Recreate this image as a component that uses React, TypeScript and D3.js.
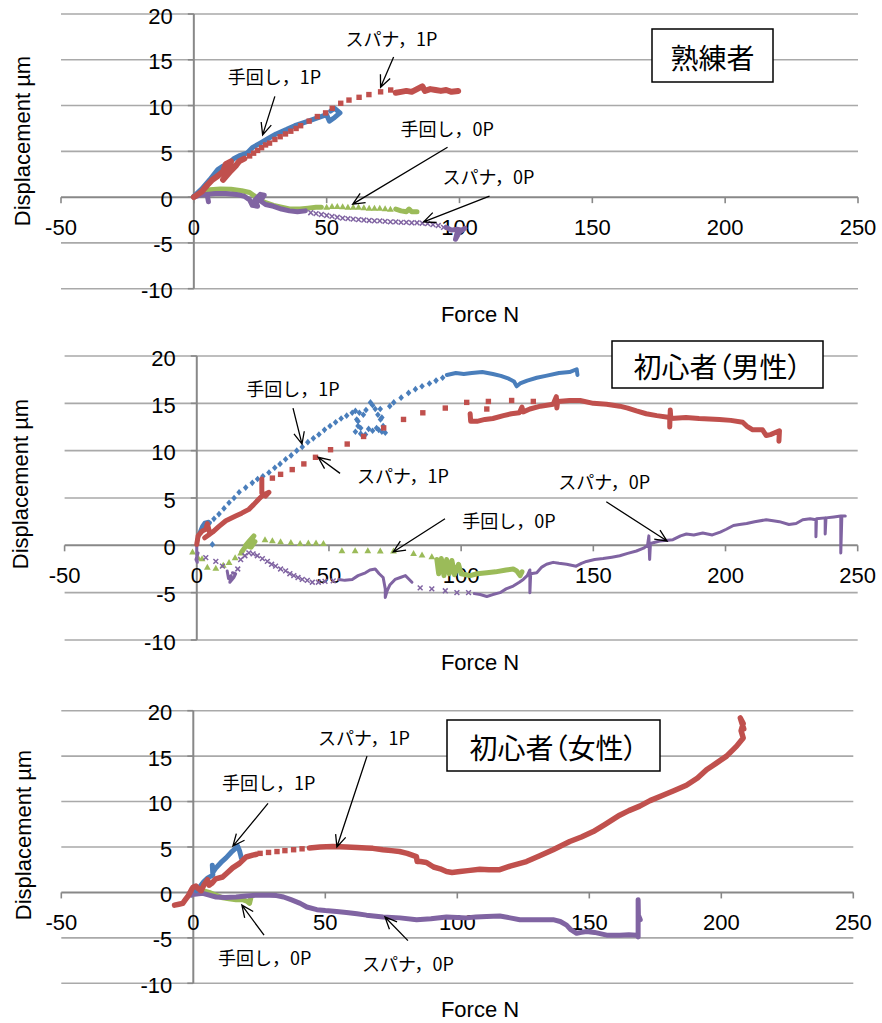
import React from "react";
import * as d3 from "d3";

type Pt = [number, number];

// Shared axis ticks
const FORCE_TICKS = [-50, 0, 50, 100, 150, 200, 250];
const DISP_TICKS = [-10, -5, 0, 5, 10, 15, 20];

const BLUE = "#4A7EBB";
const RED = "#C0504D";
const GREEN = "#9BBB59";
const PURPLE = "#8064A2";

// ---------- 熟練者 ----------
const expHand1Trace: Pt[][] = [[
  [0, 0.1], [3, 0.9], [6, 1.9], [9, 3.0], [11, 3.4], [13, 3.6], [15, 4.2], [17, 4.5], [20, 4.8], [22, 5.4],
  [25, 5.9], [28, 6.4], [31, 6.9], [35, 7.4], [38, 7.8], [42, 8.2], [46, 8.6], [50, 9.0], [51, 8.3], [53, 8.7],
  [55, 9.2], [53, 9.7], [51.5, 9.4],
]];
const expSpanner1Trace: Pt[][] = [
  [[0, 0], [3, 0.6], [5, 1.3], [7, 1.9], [9, 2.3], [11, 2.8], [12, 3.6], [14, 3.9], [13, 2.6], [11, 1.9], [14, 2.9],
   [16, 3.5], [17, 3.9], [19, 4.2]],
  [[76, 11.4], [78, 11.5], [80, 11.6], [82, 11.5], [84, 11.8], [86, 12.1], [87, 11.6], [89, 11.8], [91, 11.7],
   [93, 11.6], [95, 11.7], [97, 11.5], [99.5, 11.6]],
];
const expSpanner1Dots: Pt[] = [
  [21, 4.5], [22.5, 4.8], [24, 5.1], [25.5, 5.4], [27, 5.7], [28.5, 5.9], [30.5, 6.3], [32.5, 6.6], [34.5, 6.9],
  [36.5, 7.2], [38.5, 7.5], [40.2, 7.8], [43.4, 8.3], [46.5, 8.8], [49.6, 9.2], [52.1, 9.7], [55.3, 10.25],
  [58.4, 10.6], [62.2, 10.9], [65.9, 11.2], [70.3, 11.5], [74.1, 11.7],
];
const expHand0Trace: Pt[][] = [
  [[0, 0.1], [3, 0.5], [6, 0.8], [10, 0.9], [14, 0.85], [18, 0.7], [21, 0.5], [23, 0.1], [25, -0.3], [27, -0.6],
   [30, -0.9], [33, -1.1], [36, -1.3], [40, -1.3], [43, -1.2], [46, -1.1], [48, -1.1]],
  [[76, -1.3], [78, -1.5], [80, -1.6], [81, -1.3], [82, -1.6], [84, -1.6]],
];
const expHand0Dots: Pt[] = [
  [50, -1.1], [52, -1.0], [54, -1.0], [56, -1.05], [58, -1.1], [60, -1.1], [62, -1.1], [64, -1.15], [66, -1.2],
  [68, -1.2], [70, -1.2], [72, -1.25], [74, -1.3],
];
const expSpanner0Trace: Pt[][] = [
  [[0, 0], [2, 0.2], [5, 0.3], [8, 0.4], [12, 0.4], [16, 0.3], [19, 0.1], [21, -0.3], [22, -0.9], [24, -1.0],
   [23, -0.3], [25, 0.3], [26.5, 0.2], [25, -0.4], [27, -0.8], [30, -1.0], [33, -1.3], [36, -1.5], [39, -1.6], [42, -1.5]],
  [[5, 0.3], [5.5, -0.5]],
  [[95, -3.3], [97, -3.6], [99, -3.5], [101, -3.6], [99, -4.0], [98.5, -4.6], [100, -3.8], [102, -3.4]],
];
const expSpanner0Dots: Pt[] = [
  [44, -1.7], [46, -1.8], [48, -1.9], [50, -2.0], [52, -2.1], [54, -2.2], [56, -2.3], [58, -2.35], [60, -2.4],
  [62, -2.45], [64, -2.5], [66, -2.55], [68, -2.6], [70, -2.6], [72, -2.65], [74, -2.7], [76, -2.7], [78, -2.75],
  [80, -2.75], [82, -2.8], [84, -2.8], [86, -2.85], [88, -2.9], [90, -3.0], [92, -3.1], [94, -3.3],
];

// ---------- 初心者（男性） ----------
const maleHand1Trace: Pt[][] = [
  [[0, 0.3], [1, 1.3], [2, 2.0], [3, 2.4], [4.5, 2.5], [3, 1.8], [5, 2.4]],
  [[94.6, 18.0], [98, 18.2], [101, 18.1], [104, 18.2], [108, 18.3], [112, 18.1], [115, 17.9], [118, 17.6],
   [120, 17.3], [121, 16.8], [122.3, 17.1], [125, 17.4], [128.6, 17.7], [132, 17.9], [137, 18.2], [141, 18.3],
   [143.7, 18.6], [144, 18.0]],
];
const maleHand1Dots: Pt[] = [
  [5.9, 0.1], [6.5, 2.8], [8.4, 3.3], [10.3, 3.9], [12.2, 4.5], [14.1, 5.0], [16, 5.6], [18.5, 6.1], [21, 6.6],
  [23, 7.0], [25, 7.3], [27.3, 7.7], [29.5, 8.2], [31.5, 8.6], [33.6, 9.1], [35.7, 9.5], [37.8, 10.0], [39.9, 10.4],
  [42, 10.9], [44.1, 11.3], [46.2, 11.7], [48.3, 12.2], [50.4, 12.6], [52.5, 13.0], [54.6, 13.4], [56.7, 13.7],
  [58.8, 14.0], [60, 14.2], [61.5, 14.0], [60.5, 13.3], [61, 12.6], [60, 12.0], [62, 11.8], [63.8, 11.7],
  [65, 12.3], [66.5, 12.1], [68, 12.4], [68.8, 12.2], [70, 12.0], [71.3, 11.9], [70.5, 12.6], [69.5, 13.3],
  [68.5, 13.8], [67.5, 14.4], [66.5, 14.8], [65.7, 15.1], [64, 14.3], [63, 13.8], [69.4, 14.4], [70, 13.5],
  [62, 12.4], [61, 13.1], [73, 14.7], [74.5, 15.1], [77.3, 15.6], [80.1, 16.1], [82.7, 16.5], [85.2, 16.8],
  [88, 17.1], [90.5, 17.4], [93, 17.7],
];
const maleSpanner1Trace: Pt[][] = [
  [[0, 0.1], [0.5, 1.0], [2, 1.5], [3.4, 1.7], [4, 2.3], [5, 1.2], [3, 0.8], [6, 1.4], [8.4, 2.0], [11, 2.6],
   [14.7, 3.1], [17, 3.4], [19.7, 3.8], [21.5, 4.3], [23.5, 4.9], [25, 5.3], [27.3, 5.6], [26, 5.2], [24.6, 5.5],
   [24.6, 7.0]],
  [[103.4, 13.9], [103.6, 13.1], [106, 13.1], [109, 13.3], [112, 13.4], [116, 13.7], [119, 13.9], [122, 14.0],
   [123, 14.6], [123.5, 14.1], [126, 14.4], [130, 14.7], [134.8, 14.9], [136, 15.7], [136.2, 14.5], [136.5, 15.2],
   [141, 15.3], [145, 15.3], [150, 15.0], [155, 14.9], [160, 14.7], [163, 14.5], [166.3, 14.2], [170, 13.9],
   [174, 13.7], [178.9, 13.5], [178.9, 12.5], [179.1, 14.3], [179.3, 13.4], [185, 13.5], [190, 13.4],
   [197.7, 13.3], [202, 13.2], [206.5, 13.0], [208, 12.6], [210.3, 12.2], [214, 12.2], [215.4, 11.6],
   [217, 11.7], [220.4, 12.1], [220.2, 11.0]],
];
const maleSpanner1Dots: Pt[] = [
  [28.6, 7.1], [31.7, 7.5], [36.1, 8.0], [40.5, 8.6], [44.9, 9.3], [50.6, 10.1], [56.9, 10.7], [63.1, 11.5],
  [70.7, 12.4], [78.2, 13.3], [85.5, 14.0], [94, 14.5], [102.1, 15.1], [110.3, 15.2], [119.1, 15.3], [127.3, 15.2],
  [109.7, 14.4],
];
const maleHand0Trace: Pt[][] = [
  [[17, -0.7], [18, -0.3], [19.1, 0.1], [20, 0.2], [21, 0.7], [21.6, 1.0], [20, 0.5], [18.5, 0.0], [20.5, -0.2], [22, 0.4]],
  [[90.8, -1.5], [91.5, -3.0], [92.5, -1.4], [93.5, -3.2], [94.5, -1.5], [95.5, -3.0], [96.5, -1.6], [97.5, -3.1],
   [99, -2.0], [100, -3.0], [103.4, -3.2], [106, -3.0], [109.7, -2.9], [113, -2.8], [117, -2.6], [119.7, -2.5],
   [121, -2.7], [122.3, -3.2], [123, -2.8]],
];
const maleHand0Dots: Pt[] = [
  [-1.6, -0.7], [0.5, -1.3], [2, -1.4], [4, -2.3], [7.2, -2.4], [10, -2.1], [12.2, -1.8], [14.5, -1.3], [16.6, -0.8],
  [25.8, 0.6], [28.6, 0.5], [31.7, 0.4], [35.6, 0.3], [39.1, 0.2], [42.2, 0.25], [45.1, 0.25], [47.9, 0.2],
  [54.9, -0.55], [59.9, -0.55], [64.7, -0.55], [69.4, -0.6], [74.4, -0.6], [82, -0.85], [85.2, -1.0], [88.9, -1.2],
];
const maleSpanner0Trace: Pt[][] = [
  [[0, 0], [0, -1.0], [0.2, -1.8], [-0.3, -1.5], [0.5, -0.8]],
  [[11.5, -2.7], [12, -3.5], [13, -3.2], [12.5, -3.9], [14, -3.4], [14.7, -3.0], [13.5, -2.9]],
  [[53.7, -3.6], [56, -3.7], [58.8, -3.6], [61, -3.2], [63.8, -2.9], [65.5, -2.6], [67.5, -2.5], [69, -3.0],
   [70.5, -3.4], [71.3, -4.6], [71.3, -5.5], [72, -4.8], [73, -4.2], [75, -3.6], [77, -3.4], [78.9, -3.2],
   [80, -3.5], [81.4, -3.9]],
  [[105, -5.1], [107.2, -5.2], [109.7, -5.4], [112, -5.2], [114.7, -5.0], [117, -4.6], [119.7, -4.3], [122, -3.9],
   [123.5, -3.6], [125, -3.2], [126, -2.6], [126, -5.0], [126.3, -3.0], [128.6, -2.9], [130.5, -2.3], [132.3, -2.0],
   [134.8, -1.8], [137, -1.9], [139.9, -2.0], [143.5, -2.2], [145.5, -1.9], [147.4, -1.7], [150.5, -1.5],
   [153.7, -1.4], [157, -1.25], [160, -1.1], [163, -0.85], [166.3, -0.6], [169, -0.3], [170.5, 0.0], [171, 1.0],
   [171.3, -1.5], [171.6, 0.2], [175.1, 0.45], [180.1, 0.6], [183, 1.0], [185.2, 1.2], [188, 1.1], [191.4, 1.3],
   [195, 1.1], [198, 1.4], [200.3, 1.7], [203, 2.1], [205.3, 2.2], [208, 2.3], [211, 2.5], [215.4, 2.7],
   [218, 2.6], [220.4, 2.5], [224, 2.2], [226.7, 2.3], [229.2, 2.7], [232, 2.8], [234.2, 2.7], [234.2, 0.9],
   [234.4, 2.8], [237.7, 2.9], [237.7, 1.2], [238, 2.9], [241, 3.0], [243.6, 3.1], [243.6, -0.8], [244, 3.1],
   [245.3, 3.1]],
];
const maleSpanner0Dots: Pt[] = [
  [3.4, -1.3], [7.2, -1.7], [9.7, -2.2], [15.5, -2.5], [16.6, -1.5], [18.2, -1.1], [19.7, -0.8], [21.3, -0.9],
  [22.9, -1.1], [24.8, -1.4], [26.7, -1.7], [28.3, -2.0], [29.8, -2.2], [31.7, -2.5], [33.6, -2.7], [35.2, -3.0],
  [36.7, -3.2], [38.3, -3.4], [39.9, -3.6], [41.8, -3.7], [43.7, -3.9], [46, -3.9], [48.5, -3.8], [51.6, -3.75],
  [84.5, -4.5], [88.9, -4.6], [94, -4.8], [98.4, -5.0], [102.8, -5.0],
];

// ---------- 初心者（女性） ----------
const femHand1Trace: Pt[][] = [[
  [1, 0.2], [2.4, 0.6], [4, 1.2], [5.5, 1.6], [7.4, 1.9], [7.2, 3.0], [7.6, 2.3], [8.6, 2.7], [10.5, 3.3],
  [12.4, 3.8], [14.3, 4.4], [16.2, 4.9], [16.8, 5.1], [17.5, 4.6], [18.2, 3.8],
]];
const femSpanner1Trace: Pt[][] = [
  [[-7.1, -1.4], [-5.5, -1.3], [-4, -1.2], [-3, -0.8], [-2, -0.4], [-1.4, -0.1], [-0.5, 0.4], [0, 0.6], [1, 0.7],
   [2, 0.4], [3, 0.2], [4, 0.8], [5.4, 1.4], [6, 0.8], [7, 1.0], [8.5, 1.5], [11.1, 1.7], [13, 2.2], [14.9, 2.7],
   [17.5, 3.2], [20, 3.9], [22.5, 4.1], [24, 4.2]],
  [[44, 4.9], [48, 5.0], [52.9, 5.05], [58, 5.0], [62, 4.95], [65.5, 4.9], [68, 4.85], [71.8, 4.7], [75, 4.6],
   [78.1, 4.5], [81, 4.3], [84.5, 3.95], [84.8, 3.4], [86, 3.4], [88.3, 3.3], [91, 2.8], [93.5, 2.6], [95.9, 2.3],
   [98, 2.2], [101, 2.3], [104, 2.4], [108.5, 2.55], [112, 2.5], [116.1, 2.5], [120, 2.9], [126.2, 3.4], [131, 4.0],
   [136.3, 4.7], [142.6, 5.6], [147, 6.1], [151.5, 6.7], [156, 7.5], [161.5, 8.5], [165, 9.0], [169.1, 9.5],
   [173, 10.1], [177.9, 10.7], [182, 11.2], [186.8, 11.8], [191, 12.6], [194.4, 13.5], [198, 14.2], [202, 15.0],
   [205.8, 16.1], [208.3, 17.0], [207.5, 17.8], [208.3, 18.6], [207.2, 19.2], [208.5, 18.0]],
];
const femSpanner1Dots: Pt[] = [
  [25.3, 4.3], [28.5, 4.4], [31.7, 4.5], [34.7, 4.6], [38, 4.7], [41.2, 4.8],
];
const femHand0Trace: Pt[][] = [[
  [0, 0.3], [1.5, 0.4], [3.6, 0.2], [6, 0.0], [8.5, -0.3], [11.2, -0.6], [13.5, -0.7], [16.2, -0.8], [18.7, -0.8],
  [20.5, -1.0], [21.3, -1.2], [21.8, -0.6],
]];
const femSpanner0Trace: Pt[][] = [[
  [-0.8, -0.3], [0, 0.4], [0.5, -0.2], [3.6, -0.1], [6, -0.3], [8.6, -0.5], [12, -0.55], [16.2, -0.5], [20, -0.4],
  [23.8, -0.3], [28.8, -0.3], [31.5, -0.35], [34.2, -0.5], [37, -0.8], [40.5, -1.2], [43, -1.6], [46.8, -1.9],
  [50, -2.0], [54.3, -2.1], [58, -2.2], [62, -2.35], [65.6, -2.5], [71.9, -2.7], [78.3, -2.8], [84.6, -3.0],
  [90, -2.9], [95.9, -2.7], [100, -2.75], [103.5, -2.8], [107, -2.7], [111.1, -2.65], [116.1, -2.6], [120, -2.8],
  [123.7, -3.0], [130, -3.0], [136.3, -3.0], [139, -3.2], [141.4, -3.6], [143, -4.1], [145.2, -4.5], [147, -4.4],
  [149, -4.3], [152, -4.4], [156.6, -4.7], [161.6, -4.7], [165, -4.65], [167.9, -4.7], [168.5, -4.9],
  [168.5, -0.8], [168.6, -2.5], [169.3, -3.0],
]];

type Marker = "diamond" | "square" | "triangle" | "cross";
interface Series { color: string; marker: Marker; width: number; trace: Pt[][]; dots: Pt[] }
interface Note { text: string; at: Pt; from: Pt; to: Pt }
interface PanelSpec {
  left: number; right: number; top: number; bottom: number;
  yTitle: [number, number]; xTitleY: number;
  box: { x: number; y: number; w: number; h: number; text: string };
  series: Series[]; notes: Note[];
}

const panels: PanelSpec[] = [
  {
    left: 61, right: 858, top: 14, bottom: 288.7, yTitle: [22, 141], xTitleY: 314,
    box: { x: 652, y: 29, w: 121, h: 53, text: "熟練者" },
    series: [
      { color: GREEN, marker: "triangle", width: 5, trace: expHand0Trace, dots: expHand0Dots },
      { color: PURPLE, marker: "cross", width: 5, trace: expSpanner0Trace, dots: expSpanner0Dots },
      { color: BLUE, marker: "diamond", width: 5, trace: expHand1Trace, dots: [] },
      { color: RED, marker: "square", width: 6, trace: expSpanner1Trace, dots: expSpanner1Dots },
    ],
    notes: [
      { text: "スパナ，1P", at: [57.1, 17.4], from: [75.2, 15.3], to: [70.3, 12.0] },
      { text: "手回し，1P", at: [12.8, 13.2], from: [30.5, 11.0], to: [25.9, 6.8] },
      { text: "手回し，0P", at: [77.8, 7.6], from: [95.5, 5.45], to: [59.8, -0.76] },
      { text: "スパナ，0P", at: [93.6, 2.3], from: [111.3, 0.1], to: [86.5, -2.7] },
    ],
  },
  {
    left: 64.6, right: 857.7, top: 356, bottom: 640, yTitle: [20, 484], xTitleY: 662,
    box: { x: 612, y: 341, w: 211, h: 47, text: "初心者（男性）" },
    series: [
      { color: GREEN, marker: "triangle", width: 5, trace: maleHand0Trace, dots: maleHand0Dots },
      { color: PURPLE, marker: "cross", width: 3, trace: maleSpanner0Trace, dots: maleSpanner0Dots },
      { color: BLUE, marker: "diamond", width: 4, trace: maleHand1Trace, dots: maleHand1Dots },
      { color: RED, marker: "square", width: 5, trace: maleSpanner1Trace, dots: maleSpanner1Dots },
    ],
    notes: [
      { text: "手回し，1P", at: [18.7, 16.6], from: [36.4, 14.5], to: [39.8, 10.7] },
      { text: "スパナ，1P", at: [60.6, 7.4], from: [54.2, 7.6], to: [45.9, 9.3] },
      { text: "手回し，0P", at: [100.4, 2.7], from: [93.9, 2.8], to: [74.3, -0.7] },
      { text: "スパナ，0P", at: [136.7, 6.8], from: [154.9, 4.6], to: [177.9, 0.45] },
    ],
  },
  {
    left: 61.3, right: 853.3, top: 710.7, bottom: 983.3, yTitle: [23, 835], xTitleY: 1009,
    box: { x: 447, y: 720, w: 213, h: 51, text: "初心者（女性）" },
    series: [
      { color: GREEN, marker: "triangle", width: 5, trace: femHand0Trace, dots: [] },
      { color: PURPLE, marker: "cross", width: 5, trace: femSpanner0Trace, dots: [] },
      { color: BLUE, marker: "diamond", width: 5, trace: femHand1Trace, dots: [] },
      { color: RED, marker: "square", width: 5.5, trace: femSpanner1Trace, dots: femSpanner1Dots },
    ],
    notes: [
      { text: "スパナ，1P", at: [47.2, 17.1], from: [65.8, 15.0], to: [54.4, 5.0] },
      { text: "手回し，1P", at: [10.9, 12.2], from: [28.3, 9.8], to: [15.0, 5.1] },
      { text: "手回し，0P", at: [9.4, -7.1], from: [26.8, -4.7], to: [18.4, -1.4] },
      { text: "スパナ，0P", at: [63.9, -7.8], from: [81.3, -5.3], to: [72.6, -2.7] },
    ],
  },
];

const LATIN = "'Liberation Sans', Arial, sans-serif";
const CJK = "'Noto Sans CJK JP', 'Noto Sans', sans-serif";

function markerPath(m: Marker): string {
  switch (m) {
    case "diamond": return "M0,-3.3L2.8,0L0,3.3L-2.8,0Z";
    case "square": return "M-2.7,-2.7H2.7V2.7H-2.7Z";
    case "triangle": return "M0,-3.4L3.4,2.6H-3.4Z";
    default: return "M-2.4,-2.4L2.4,2.4M-2.4,2.4L2.4,-2.4";
  }
}

function Arrow({ x1, y1, x2, y2 }: { x1: number; y1: number; x2: number; y2: number }) {
  const ang = Math.atan2(y2 - y1, x2 - x1);
  const len = 13;
  const spread = 0.42;
  const a1 = ang + Math.PI - spread;
  const a2 = ang + Math.PI + spread;
  const d = `M${x1},${y1}L${x2},${y2}M${x2 + len * Math.cos(a1)},${y2 + len * Math.sin(a1)}L${x2},${y2}L${x2 + len * Math.cos(a2)},${y2 + len * Math.sin(a2)}`;
  return <path d={d} fill="none" stroke="#000" strokeWidth={1.3} />;
}

function Panel({ spec }: { spec: PanelSpec }) {
  const x = d3.scaleLinear().domain([-50, 250]).range([spec.left, spec.right]);
  const y = d3.scaleLinear().domain([-10, 20]).range([spec.bottom, spec.top]);
  const x0 = x(0);
  const y0 = y(0);
  const line = d3.line<Pt>().x((d) => x(d[0])).y((d) => y(d[1]));

  return (
    <g>
      {/* horizontal gridlines */}
      {DISP_TICKS.filter((t) => t !== 0).map((t) => (
        <line key={`g${t}`} x1={spec.left} x2={spec.right} y1={y(t)} y2={y(t)} stroke="#A9A9A9" strokeWidth={1.6} />
      ))}
      {/* axes */}
      <line x1={x0} x2={x0} y1={spec.top} y2={spec.bottom} stroke="#888" strokeWidth={2} />
      <line x1={spec.left} x2={spec.right} y1={y0} y2={y0} stroke="#888" strokeWidth={2} />
      {DISP_TICKS.map((t) => (
        <line key={`yt${t}`} x1={x0 - 6} x2={x0} y1={y(t)} y2={y(t)} stroke="#888" strokeWidth={1.6} />
      ))}
      {FORCE_TICKS.map((t) => (
        <line key={`xt${t}`} x1={x(t)} x2={x(t)} y1={y0} y2={y0 + 6} stroke="#888" strokeWidth={1.6} />
      ))}
      {/* tick labels */}
      {DISP_TICKS.map((t) => (
        <text key={`yl${t}`} x={x0 - 21} y={y(t) + 2} textAnchor="end" dominantBaseline="central"
          fontFamily={LATIN} fontSize={22} fill="#000">{t}</text>
      ))}
      {FORCE_TICKS.map((t) => (
        <text key={`xl${t}`} x={x(t)} y={y0 + 30} textAnchor="middle" dominantBaseline="central"
          fontFamily={LATIN} fontSize={22} fill="#000">{t}</text>
      ))}
      {/* axis titles */}
      <text transform={`translate(${spec.yTitle[0]},${spec.yTitle[1]}) rotate(-90)`} textAnchor="middle"
        dominantBaseline="central" fontFamily={LATIN} fontSize={22} fill="#000">Displacement µm</text>
      <text x={480} y={spec.xTitleY} textAnchor="middle" dominantBaseline="central"
        fontFamily={LATIN} fontSize={22} fill="#000">Force N</text>

      {/* data series */}
      {spec.series.map((s, i) => (
        <g key={`s${i}`}>
          {s.trace.map((seg, j) => (
            <path key={`t${j}`} d={line(seg) ?? ""} fill="none" stroke={s.color} strokeWidth={s.width}
              strokeLinejoin="round" strokeLinecap="round" />
          ))}
          {s.dots.map((p, j) => (
            <path key={`d${j}`} transform={`translate(${x(p[0])},${y(p[1])})`} d={markerPath(s.marker)}
              fill={s.marker === "cross" ? "none" : s.color} stroke={s.marker === "cross" ? s.color : "none"}
              strokeWidth={1.5} />
          ))}
        </g>
      ))}

      {/* annotations */}
      {spec.notes.map((n, i) => (
        <g key={`n${i}`}>
          <text x={x(n.at[0])} y={y(n.at[1])} dominantBaseline="central" fontFamily={CJK} fontSize={18} fill="#000">
            {n.text}
          </text>
          <Arrow x1={x(n.from[0])} y1={y(n.from[1])} x2={x(n.to[0])} y2={y(n.to[1])} />
        </g>
      ))}

      {/* group label */}
      <rect x={spec.box.x} y={spec.box.y} width={spec.box.w} height={spec.box.h} fill="#fff" stroke="#000" strokeWidth={1.5} />
      <text x={spec.box.x + spec.box.w / 2} y={spec.box.y + spec.box.h / 2 + 1} textAnchor="middle"
        dominantBaseline="central" fontFamily={CJK} fontSize={28} fill="#000"
        style={{ fontFeatureSettings: '"palt"' }}>{spec.box.text}</text>
    </g>
  );
}

export default function App() {
  return (
    <svg width={882} height={1023} viewBox="0 0 882 1023"
      style={{ position: "absolute", left: 0, top: 0, background: "#fff" }}>
      <rect x={0} y={0} width={882} height={1023} fill="#fff" />
      {panels.map((p, i) => <Panel key={i} spec={p} />)}
    </svg>
  );
}
